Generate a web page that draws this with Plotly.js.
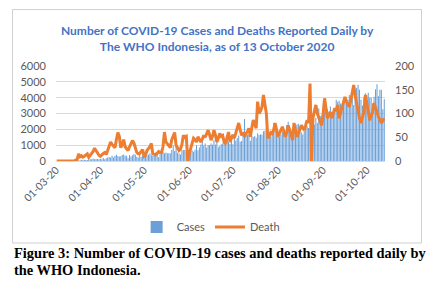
<!DOCTYPE html>
<html>
<head>
<meta charset="utf-8">
<script src="https://cdn.plot.ly/plotly-3.0.1.min.js"></script>
<style>html,body{margin:0;padding:0;background:#fff;}#chart{width:430px;height:287px;}</style>
</head>
<body>
<div id="chart"></div>
<script>
// First reported day and daily values (Mar 2 – Oct 13, 2020)
const startDate = '2020-03-02';
const casesMar = [2,0,0,0,2,0,0,2,13,8,7,0,0,21,17,38,55,82,60,81,64,65,106,105,103,153,109,130,129,114];
const casesApr = [149,113,196,106,181,218,247,218,337,219,330,399,316,282,297,380,407,325,327,185,375,283,357,436,396,275,214,415,260,347];
const casesMay = [433,292,349,395,484,367,338,336,533,387,233,484,689,568,490,529,489,496,486,693,973,634,949,526,479,415,686,687,700,557,700];
const casesJun = [467,609,684,585,703,993,672,847,1043,1241,979,1111,857,1014,1017,1106,1031,1331,1041,1226,862,954,1051,1113,1178,1240,1385,1198,1082,1293];
const casesJul = [1057,1624,1301,1447,1607,1209,1268,1853,2657,1611,1671,1681,1282,1591,1522,1574,1462,1752,1639,1693,1655,1882,1906,2116,1868,1492,1525,1748,2381,1904,2040];
const casesAug = [1560,1519,1679,1815,1922,1815,2277,2473,1893,1687,1693,1942,2098,2307,2345,2081,1821,1673,1902,2266,2197,2090,2037,1877,2447,2306,2719,2405,3308,2858,2743];
const casesSep = [2775,3075,3622,3269,3128,3444,2880,3046,3307,3861,3737,3806,3636,3141,3507,3963,3635,3891,4168,3989,4176,3540,4071,4634,4823,4494,3874,3509,4002,4284];
const casesOct = [4174,4317,4007,3992,3622,4056,4538,4850,4094,4497,4497,3267,3906];

const deathMar = [0,0,0,0,0,0,0,0,0,1,0,1,0,2,3,15,9,11,8,10,12,15,8,12,18,20,27,21,15,12];
const deathApr = [10,14,16,18,14,22,30,40,35,30,28,45,60,52,28,35,45,30,26,22,30,36,43,38,25,18,15,16,20,24];
const deathMay = [10,12,22,26,30,37,15,14,13,16,20,18,18,30,61,40,35,30,28,45,54,60,33,28,22,25,35,54,50,52,0];
const deathJun = [15,27,38,48,45,40,51,45,40,46,54,50,58,65,55,44,52,65,55,40,48,58,52,54,40,36,50,61,40,48];
const deathJul = [55,48,58,70,80,66,54,60,51,58,62,69,51,70,86,78,69,125,100,105,114,139,120,100,48,52,60,58,65,80,66];
const deathAug = [51,58,66,72,62,51,60,75,66,52,44,80,65,51,58,66,75,70,65,75,86,80,163,0,90,105,118,100,93,85,75];
const deathSep = [100,132,110,90,98,103,90,100,111,105,118,90,100,111,125,135,125,118,114,128,142,160,138,120,110,90,80,95,103,139];
const deathOct = [118,100,86,95,103,122,110,103,93,88,80,85,90];

const tickDates = ['2020-03-01 13:00','2020-04-01','2020-05-01','2020-06-01','2020-07-01','2020-08-01','2020-09-01','2020-10-01'];
const tickLabels = ['01-03-20','01-04-20','01-05-20','01-06-20','01-07-20','01-08-20','01-09-20','01-10-20'];

const cases = [].concat(casesMar,casesApr,casesMay,casesJun,casesJul,casesAug,casesSep,casesOct);
const deaths = [].concat(deathMar,deathApr,deathMay,deathJun,deathJul,deathAug,deathSep,deathOct);

const dates = [];
const d0 = new Date(startDate + 'T00:00:00Z');
for (let i = 0; i < cases.length; i++) {
  const d = new Date(d0.getTime() + i * 86400000);
  dates.push(d.toISOString().slice(0,10));
}

const FONT = 'Lato, "Open Sans", sans-serif';
const GRAY = '#595959';
const SERIF = '"Liberation Serif", "DejaVu Serif", serif';

const traces = [
  {type:'bar', name:'Cases', x:dates, y:cases, marker:{color:'#6A9FD8'}, hoverinfo:'skip'},
  {type:'scatter', mode:'lines', name:'Death', x:dates, y:deaths, yaxis:'y2',
   line:{color:'#ED7D31', width:3}, hoverinfo:'skip'}
];

const layout = {
  width:430, height:287,
  margin:{l:56, r:45, t:66, b:126, pad:0},
  paper_bgcolor:'#fff', plot_bgcolor:'#fff',
  font:{family:FONT, color:GRAY, size:11},
  bargap:0.3,
  showlegend:true,
  title:{
    text:'<b>Number of COVID-19 Cases and Deaths Reported Daily by<br>The WHO Indonesia, as of 13 October 2020</b>',
    font:{family:FONT, size:12, color:'#4472C4'},
    x:0.505, xref:'container', xanchor:'center',
    y:1-35/287, yref:'container', yanchor:'middle'
  },
  xaxis:{
    type:'date',
    range:['2020-03-01 12:00','2020-10-13 12:00'],
    tickvals:tickDates, ticktext:tickLabels, tickangle:-45,
    showgrid:false, showline:false, zeroline:false, ticks:'',
    tickfont:{family:FONT, size:10.5, color:GRAY}
  },
  yaxis:{
    range:[0,6000], dtick:1000, tick0:0,
    showgrid:true, gridcolor:'#d9d9d9', gridwidth:1,
    zeroline:true, zerolinecolor:'#d9d9d9', zerolinewidth:1,
    showline:false, ticks:'', ticklabelstandoff:9,
    tickfont:{family:FONT, size:11, color:GRAY}
  },
  yaxis2:{
    overlaying:'y', side:'right',
    range:[0,200], dtick:50, tick0:0,
    showgrid:false, zeroline:false, showline:false, ticks:'', ticklabelstandoff:9,
    tickfont:{family:FONT, size:11, color:GRAY}
  },
  legend:{
    orientation:'h', x:0.47, xanchor:'center', y:-0.695, yanchor:'middle',
    font:{family:FONT, size:11, color:GRAY}, bgcolor:'rgba(0,0,0,0)'
  },
  shapes:[
    {type:'rect', xref:'paper', yref:'paper',
     x0:(12.5-56)/329, x1:(421.5-56)/329, y0:(161-243)/95, y1:(161-9.5)/95,
     line:{color:'#d0d0d0', width:1}, fillcolor:'rgba(0,0,0,0)', layer:'below'}
  ],
  annotations:[
    {xref:'paper', yref:'paper', x:(12-56)/329, y:(161-253)/95, xanchor:'left', yanchor:'middle',
     showarrow:false, align:'left',
     text:'<b>Figure 3: Number of COVID-19 cases and deaths reported daily by</b>',
     font:{family:SERIF, size:14.4, color:'#000'}},
    {xref:'paper', yref:'paper', x:(12-56)/329, y:(161-269.5)/95, xanchor:'left', yanchor:'middle',
     showarrow:false, align:'left',
     text:'<b>the WHO Indonesia.</b>',
     font:{family:SERIF, size:14.4, color:'#000'}}
  ]
};

Plotly.newPlot('chart', traces, layout, {staticPlot:true, displayModeBar:false});
</script>
</body>
</html>
